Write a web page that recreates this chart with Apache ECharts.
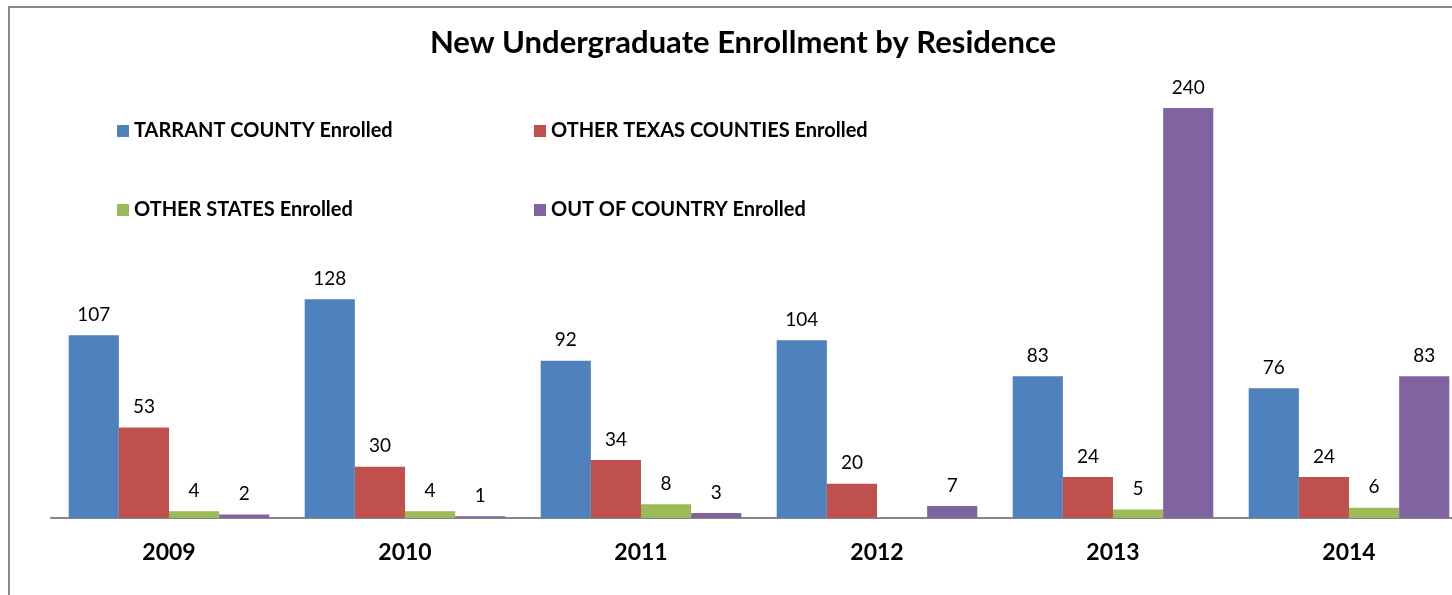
<!DOCTYPE html>
<html>
<head>
<meta charset="utf-8">
<script src="https://cdn.jsdelivr.net/npm/echarts@6/dist/echarts.min.js"></script>
<style>
  html, body { margin: 0; padding: 0; background: #fff; }
  #chart { width: 1452px; height: 595px; }
</style>
</head>
<body>
<div id="chart"></div>
<script>
  var years = ['2009', '2010', '2011', '2012', '2013', '2014'];
  var tarrant = [107, 128, 92, 104, 83, 76];
  var otherTexas = [53, 30, 34, 20, 24, 24];
  var otherStates = [4, 4, 8, 0, 5, 6];
  var outOfCountry = [2, 1, 3, 7, 240, 83];

  var names = ['TARRANT COUNTY Enrolled', 'OTHER TEXAS COUNTIES Enrolled',
               'OTHER STATES Enrolled', 'OUT OF COUNTRY Enrolled'];
  var colors = ['#4F81BD', '#C0504D', '#9BBB59', '#8064A2'];
  var font = 'Lato';

  var myChart = echarts.init(document.getElementById('chart'));

  var legendPos = [[112, 116], [529, 116], [112, 195], [529, 195]];
  var legends = names.map(function (n, i) {
    return {
      data: [n],
      left: legendPos[i][0],
      top: legendPos[i][1],
      itemWidth: 12,
      itemHeight: 12,
      itemGap: 4,
      icon: 'rect',
      selectedMode: false,
      textStyle: { fontFamily: font, fontWeight: 'bold', fontSize: 20, color: '#000' }
    };
  });

  var seriesData = [tarrant, otherTexas, otherStates, outOfCountry];

  myChart.setOption({
    animation: false,
    title: {
      text: 'New Undergraduate Enrollment by Residence',
      left: 738,
      textAlign: 'center',
      top: 22,
      textStyle: { fontFamily: font, fontWeight: 'bold', fontSize: 31, color: '#000' }
    },
    legend: legends,
    graphic: [{
      type: 'polyline',
      shape: { points: [[9, 600], [9, 7], [1460, 7]] },
      style: { stroke: '#898989', lineWidth: 2, fill: null },
      silent: true
    }],
    grid: { left: 51, top: 108, width: 1416, bottom: 77, outerBoundsMode: 'none' },
    xAxis: {
      type: 'category',
      data: years,
      axisTick: { show: false },
      axisLine: { lineStyle: { color: '#868686', width: 2 } },
      axisLabel: { fontFamily: font, fontWeight: 'bold', fontSize: 23, color: '#000', margin: 23 }
    },
    yAxis: {
      type: 'value',
      min: 0,
      max: 240,
      show: false,
      splitLine: { show: false }
    },
    series: seriesData.map(function (d, i) {
      return {
        name: names[i],
        type: 'bar',
        data: d,
        barGap: '0%',
        barCategoryGap: '15%',
        itemStyle: { color: colors[i] },
        label: {
          show: true,
          position: 'top',
          distance: 11,
          fontFamily: font,
          fontSize: 19,
          color: '#000',
          formatter: function (p) { return p.value === 0 ? '' : p.value; }
        }
      };
    })
  });
</script>
</body>
</html>
